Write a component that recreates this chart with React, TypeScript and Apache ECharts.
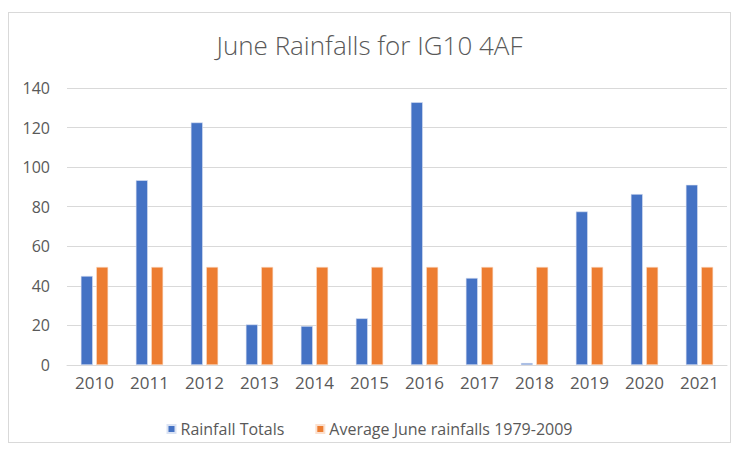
import React, { useEffect, useRef } from "react";
import * as echarts from "echarts";

const categories = ["2010", "2011", "2012", "2013", "2014", "2015", "2016", "2017", "2018", "2019", "2020", "2021"];
const rainfallTotals = [45, 93.4, 122.6, 20.5, 19.7, 23.6, 132.8, 44, 1, 77.6, 86.4, 91.1];
const averageJune = [49.6, 49.6, 49.6, 49.6, 49.6, 49.6, 49.6, 49.6, 49.6, 49.6, 49.6, 49.6];
const yTicks = { min: 0, max: 140, interval: 20 };

const FONT = "Open Sans";

export default function App() {
  const ref = useRef<HTMLDivElement>(null);
  useEffect(() => {
    if (!ref.current) return;
    const chart = echarts.init(ref.current, null, { renderer: "svg" });
    chart.setOption({
      animation: false,
      backgroundColor: "#ffffff",
      title: {
        text: "June Rainfalls for IG10 4AF",
        left: "center",
        top: 14,
        textStyle: { fontFamily: FONT, fontWeight: 300, fontSize: 26, color: "#595959" },
      },
      legend: {
        top: 403,
        left: "center",
        itemWidth: 8,
        itemHeight: 8,
        itemGap: 31,
        icon: "rect",
        textStyle: { fontFamily: FONT, fontSize: 16, color: "#595959" },
        data: ["Rainfall Totals", "Average June rainfalls 1979-2009"],
      },
      grid: { left: 58, right: 3, top: 75, bottom: 77, containLabel: false },
      xAxis: {
        type: "category",
        data: categories,
        axisLine: { lineStyle: { color: "#d9d9d9" } },
        axisTick: { show: false },
        axisLabel: { fontFamily: FONT, fontSize: 17, color: "#595959", margin: 9 },
      },
      yAxis: {
        type: "value",
        min: yTicks.min,
        max: yTicks.max,
        interval: yTicks.interval,
        axisLine: { show: false },
        axisTick: { show: false },
        splitLine: { lineStyle: { color: "#d9d9d9" } },
        axisLabel: { fontFamily: FONT, fontSize: 16, color: "#595959", margin: 17 },
      },
      series: [
        {
          name: "Rainfall Totals",
          type: "bar",
          data: rainfallTotals,
          barWidth: 12,
          barGap: "28%",
          itemStyle: { color: "#4472C4", borderColor: "#dbe3f3", borderWidth: 0.6 },
        },
        {
          name: "Average June rainfalls 1979-2009",
          type: "bar",
          data: averageJune,
          barWidth: 12,
          itemStyle: { color: "#ED7D31", borderColor: "#fbe0cf", borderWidth: 0.6 },
        },
      ],
    });
    return () => chart.dispose();
  }, []);
  return (
    <div style={{ width: 723, height: 431, marginTop: 4, border: "1px solid #d9d9d9", boxSizing: "border-box", position: "relative" }}>
      <div ref={ref} style={{ width: 721, height: 429 }} />
    </div>
  );
}
